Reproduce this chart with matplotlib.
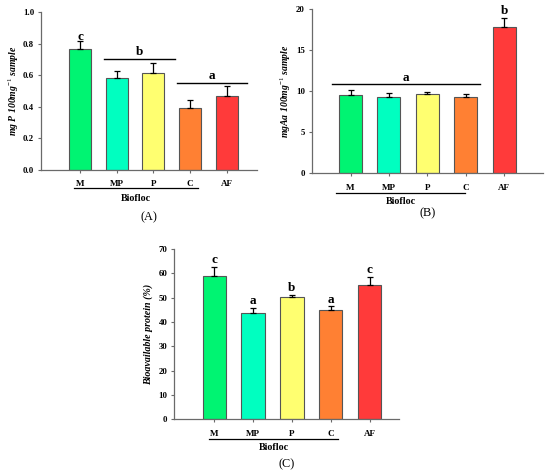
import matplotlib
matplotlib.use("Agg")
import matplotlib.pyplot as plt

plt.rcParams['font.family'] = ['Liberation Serif', 'DejaVu Serif']
plt.rcParams['mathtext.fontset'] = 'custom'
plt.rcParams['mathtext.rm'] = 'Liberation Serif'
plt.rcParams['mathtext.it'] = 'Liberation Serif:italic:bold'
plt.rcParams['mathtext.bf'] = 'Liberation Serif:bold'

categories = ["M", "MP", "P", "C", "AF"]
colors = ["#00F472", "#00FFC0", "#FFFF70", "#FF8033", "#FF3A3A"]

a_values = [0.77, 0.585, 0.615, 0.39, 0.47]
a_errors = [0.048, 0.045, 0.065, 0.052, 0.063]
b_values = [9.55, 9.35, 9.67, 9.35, 17.8]
b_errors = [0.6, 0.4, 0.2, 0.37, 1.2]
c_values = [59.0, 43.8, 50.3, 44.8, 55.1]
c_errors = [3.6, 2.0, 0.9, 1.6, 3.3]

W, H = 550, 474
fig = plt.figure(figsize=(W / 100, H / 100), dpi=100)

def make_ax(left, right, top, bottom):
    return fig.add_axes([left / W, 1 - bottom / H, (right - left) / W, (bottom - top) / H])

def style(ax, ylim, yticks, xlim, yfmt):
    ax.set_ylim(*ylim)
    ax.set_xlim(*xlim)
    ax.set_yticks(yticks)
    ax.set_yticklabels([yfmt.format(v) for v in yticks], fontweight='bold', fontsize=6.3)
    ax.set_xticks(range(len(categories)))
    ax.set_xticklabels(categories, fontweight='bold', fontsize=6.5)
    for s in ['top', 'right']:
        ax.spines[s].set_visible(False)
    for s in ['left', 'bottom']:
        ax.spines[s].set_color('#6a6a6a')
        ax.spines[s].set_linewidth(0.9)
    ax.tick_params(axis='both', direction='out', length=2.5, width=0.8, color='#6a6a6a', pad=2.5)
    ax.tick_params(axis='x', pad=5)

def bars(ax, vals, errs):
    x = range(len(vals))
    ax.bar(x, vals, width=0.6, color=colors, edgecolor='#555555', linewidth=0.8, zorder=2)
    ax.errorbar(x, vals, yerr=[[0] * len(vals), errs], fmt='none', ecolor='black',
                elinewidth=0.9, capsize=2.5, capthick=0.9, zorder=3)

def biofloc(ax, x0, x1, yline, ytext, panel, ypanel):
    ax.plot([x0, x1], [yline, yline], color='black', lw=0.9, transform=ax.get_xaxis_transform(), clip_on=False)
    ax.text((x0 + x1) / 2, ytext, "Biofloc", transform=ax.get_xaxis_transform(), ha='center', va='center',
            fontweight='bold', fontsize=7.2)
    ax.text(0.5 * (ax.get_xlim()[0] + ax.get_xlim()[1]), ypanel, panel, transform=ax.get_xaxis_transform(),
            ha='center', va='center', fontsize=8.8)

# Panel A
axA = make_ax(41, 257, 12.3, 170)
bars(axA, a_values, a_errors)
style(axA, (0, 1.0), [0.0, 0.2, 0.4, 0.6, 0.8, 1.0], (-1.07, 4.83), "{:.1f}")
axA.set_ylabel(r"mg P 100mg$^{-1}$ sample", fontstyle='italic', fontweight='bold', fontsize=7, labelpad=1)
axA.text(0, 0.845, "c", ha='center', va='center', fontweight='bold', fontsize=9.5)
axA.plot([0.66, 2.6], [0.706, 0.706], color='black', lw=1)
axA.text(1.63, 0.75, "b", ha='center', va='center', fontweight='bold', fontsize=9.5)
axA.plot([2.65, 4.56], [0.553, 0.553], color='black', lw=1)
axA.text(3.6, 0.595, "a", ha='center', va='center', fontweight='bold', fontsize=9.5)
biofloc(axA, -0.16, 3.22, -0.114, -0.178, "(A)", -0.30)

# Panel B
axB = make_ax(311.7, 543, 9.3, 173.3)
bars(axB, b_values, b_errors)
style(axB, (0, 20), [0, 5, 10, 15, 20], (-1.01, 5.01), "{:.0f}")
axB.set_ylabel(r"mgAa 100mg$^{-1}$ sample", fontstyle='italic', fontweight='bold', fontsize=7, labelpad=2)
axB.plot([-0.48, 3.37], [10.85, 10.85], color='black', lw=1)
axB.text(1.45, 11.6, "a", ha='center', va='center', fontweight='bold', fontsize=9.5)
axB.text(4, 19.75, "b", ha='center', va='center', fontweight='bold', fontsize=9.5)
biofloc(axB, -0.38, 2.98, -0.12, -0.169, "(B)", -0.242)

# Panel C
axC = make_ax(174.3, 399, 249, 419.3)
bars(axC, c_values, c_errors)
style(axC, (0, 70), [0, 10, 20, 30, 40, 50, 60, 70], (-1.03, 4.76), "{:.0f}")
axC.set_ylabel("Bioavailable protein (%)", fontstyle='italic', fontweight='bold', fontsize=7.2, labelpad=4)
for i, (lab, y) in enumerate(zip(["c", "a", "b", "a", "c"], [65.3, 48.5, 54.0, 49.2, 61.4])):
    axC.text(i, y, lab, ha='center', va='center', fontweight='bold', fontsize=9.5)
biofloc(axC, -0.13, 3.19, -0.116, -0.168, "(C)", -0.262)

fig.savefig("out.png", dpi=100)
